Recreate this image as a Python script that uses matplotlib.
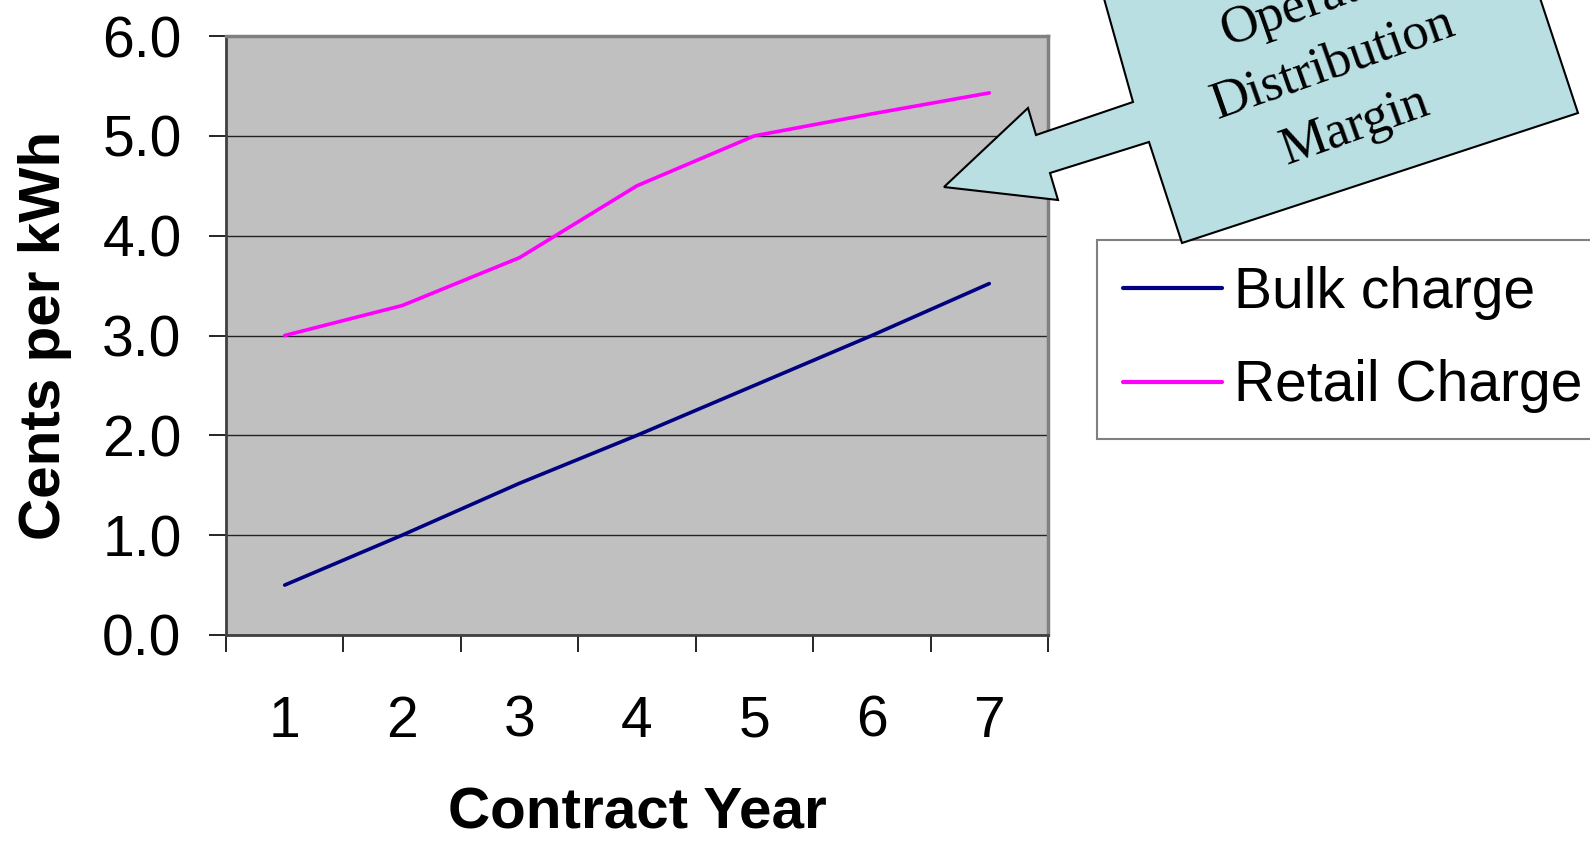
import matplotlib
matplotlib.use("Agg")
import matplotlib.pyplot as plt
from matplotlib.patches import Polygon

plt.rcParams['font.family'] = ['Liberation Sans', 'DejaVu Sans']

# Data
years = ['1', '2', '3', '4', '5', '6', '7']
bulk_charge = [0.5, 1.0, 1.52, 2.0, 2.5, 3.0, 3.52]
retail_charge = [3.0, 3.3, 3.78, 4.5, 5.0, 5.22, 5.43]
y_ticks = [0.0, 1.0, 2.0, 3.0, 4.0, 5.0, 6.0]
callout_lines = ['Operator', 'Distribution', 'Margin']

W, H = 1590, 842
fig = plt.figure(figsize=(W / 100, H / 100), dpi=100)
ax = fig.add_axes([226 / W, 1 - 635 / H, (1048 - 226) / W, (635 - 36) / H])
ax.set_facecolor('#C0C0C0')

x = list(range(1, len(years) + 1))
ax.plot(x, bulk_charge, color='#000080', lw=2.6, label='Bulk charge',
        solid_capstyle='round', zorder=3)
ax.plot(x, retail_charge, color='#FF00FF', lw=2.6, label='Retail Charge',
        solid_capstyle='round', zorder=3)

ax.set_xlim(0.5, len(years) + 0.5)
ax.set_ylim(0, 6)
ax.set_yticks(y_ticks)
ax.set_yticklabels([f'{v:.1f}' for v in y_ticks])
ax.set_xticks([i + 0.5 for i in range(len(years) + 1)])
ax.set_xticklabels([])
ax.set_xticks(x, minor=True)
ax.set_xticklabels(years, minor=True)

ax.tick_params(axis='y', direction='out', length=12, width=1.2, labelsize=41, pad=20)
ax.tick_params(axis='x', which='major', direction='out', length=12, width=1.2)
ax.tick_params(axis='x', which='minor', length=0, labelsize=41, pad=43)

ax.grid(axis='y', color='#222222', lw=1.0)
ax.set_axisbelow(True)
for side in ['top', 'right']:
    ax.spines[side].set_color('#808080')
    ax.spines[side].set_linewidth(2.5)
for side in ['left', 'bottom']:
    ax.spines[side].set_color('#404040')
    ax.spines[side].set_linewidth(2.0)

ax.set_xlabel('Contract Year', fontsize=42, fontweight='bold', labelpad=27)
ax.set_ylabel('Cents per kWh', fontsize=42, fontweight='bold', labelpad=22)

leg = fig.legend(loc='upper left', bbox_to_anchor=(1097 / W, 1 - 240 / H),
                 fontsize=41, frameon=True, fancybox=False, handlelength=1.75,
                 handletextpad=0.2, borderpad=0.45, labelspacing=0.7,
                 borderaxespad=0)
leg.get_frame().set_edgecolor('#606060')
leg.get_frame().set_linewidth(1.5)
for line in leg.get_lines():
    line.set_linewidth(3)

# Callout arrow shape (pixel coordinates, y downward)
pts = [(1103, -5), (1133, 102), (1036, 135), (1028, 108), (944, 187),
       (1058, 200), (1050, 173), (1149, 142), (1182, 243), (1578, 113),
       (1539, -5)]
poly = Polygon([(px / W, 1 - py / H) for px, py in pts], closed=True,
               transform=fig.transFigure, facecolor='#B9DFE3',
               edgecolor='black', lw=1.5, zorder=10)
fig.add_artist(poly)

cx, cy = 1333, 64
for k, txt in zip([-1, 0, 1], callout_lines):
    px = cx + k * 66 * 0.33
    py = cy + k * 66 * 0.944
    fig.text(px / W, 1 - py / H, txt, rotation=19.5, rotation_mode='anchor',
             ha='center', va='center', fontsize=38,
             family=['Liberation Serif', 'DejaVu Serif'], zorder=11)

fig.savefig('out.png', dpi=100)
